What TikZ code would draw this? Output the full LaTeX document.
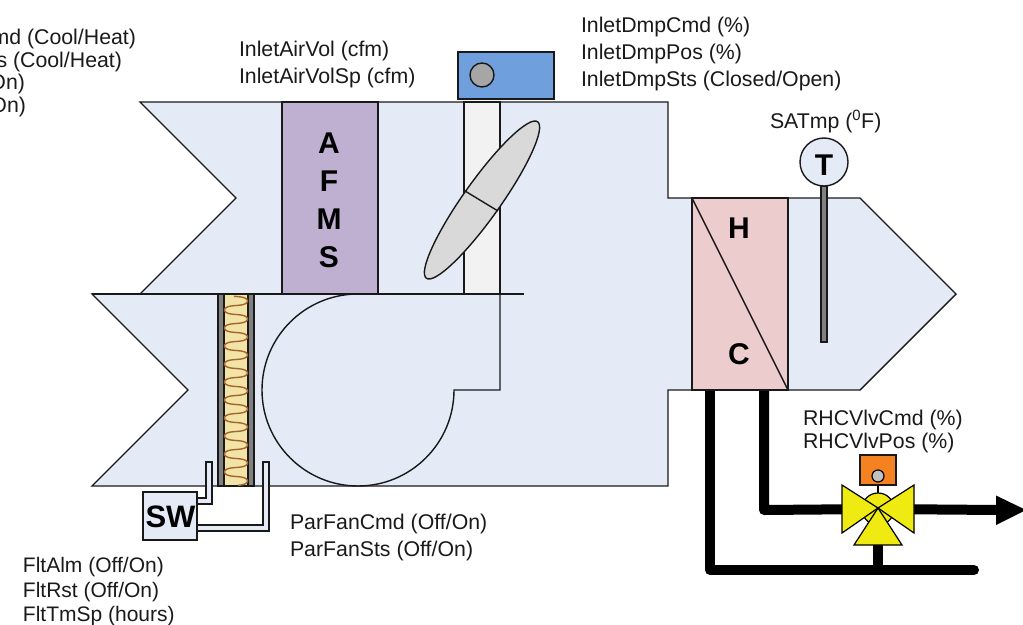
\documentclass[tikz,border=0pt]{standalone}
\usepackage{fontspec}
\setmainfont{Liberation Sans}
\definecolor{ductblue}{HTML}{E4EBF6}
\definecolor{afmspurple}{HTML}{BFB0D2}
\definecolor{framegrey}{HTML}{F2F2F2}
\definecolor{bladegrey}{HTML}{D9D9D9}
\definecolor{actblue}{HTML}{6F9FDC}
\definecolor{knobgrey}{HTML}{A6A6A6}
\definecolor{midgrey}{HTML}{808080}
\definecolor{filteryellow}{HTML}{F2E3A6}
\definecolor{coilbrown}{HTML}{A5652F}
\definecolor{coilpink}{HTML}{ECCCCC}
\definecolor{valveyellow}{HTML}{EEEA12}
\definecolor{actorange}{HTML}{F58220}
\definecolor{labelink}{HTML}{1A1A1A}
\tikzset{
  outl/.style={draw=black!90,line width=1.4pt,line join=miter},
  lab/.style={anchor=base west,inner sep=0pt,outer sep=0pt,text=labelink,font=\fontsize{21.3}{23}\selectfont},
  labs/.style={lab,font=\fontsize{21}{23}\selectfont},
  labr/.style={lab,anchor=base east},
  bigl/.style={inner sep=0pt,outer sep=0pt,font=\fontsize{30}{32}\selectfont\bfseries},
  pipe/.style={draw=black,line width=10pt,line join=round},
}
\begin{document}
\begin{tikzpicture}[x=1pt,y=-1pt]
\useasboundingbox (0,0) rectangle (1023,624);
\begin{scope}
\clip (0,0) rectangle (1023,624);
\fill[white] (0,0) rectangle (1023,624);
% duct
\path[outl,fill=ductblue] (140,102)--(668,102)--(668,198)--(860,198)--(956,294)--(860,390)--(668,390)--(668,486)--(92,486)--(188,390)--(92,294)--(140,294)--(236,198)--cycle;
% AFMS
\path[outl,fill=afmspurple] (282,102) rectangle (378,294);
% damper frame
\path[outl,fill=framegrey] (464,102) rectangle (500,294);
% divider and volute
\draw[outl] (92,294)--(524,294);
\draw[outl] (358,294) arc[start angle=270,end angle=90,radius=96] arc[start angle=90,end angle=0,radius=96]--(500,390)--(500,294);
% damper blade
\path[outl,fill=bladegrey,rotate around={54.6:(482,200)}] (482,200) ellipse[x radius=96,y radius=18.5];
\draw[outl] (465,191)--(498,211);
% damper actuator
\path[outl,fill=actblue] (458,52) rectangle (554,99);
\path[outl,fill=knobgrey] (482,75) circle[radius=12];
% filter
\path[outl,fill=midgrey] (218,294) rectangle (224,486);
\path[outl,fill=filteryellow] (224,294) rectangle (248,486);
\path[outl,fill=midgrey] (248,294) rectangle (254,486);
\draw[coilbrown,line width=1.4pt] plot[domain=296:485,samples=300,smooth,variable=\yy] ({236+11.5*sin(20*(\yy-310)-90)},{\yy-1.0*sin(2*(20*(\yy-310)-90))});
% pressure switch tubes
\path[draw=black!90,line width=1.2pt,fill=ductblue] (197,498)--(206,498)--(206,462)--(212,462)--(212,504)--(197,504);
\path[draw=black!90,line width=1.2pt,fill=ductblue] (197,525)--(263,525)--(263,462)--(269,462)--(269,531)--(197,531);
\path[outl,fill=ductblue] (143,492) rectangle (197,540);
\node[bigl,font=\fontsize{31}{32}\selectfont\bfseries] (sw) at (170.5,517) {SW};
% heating coil
\path[outl,fill=coilpink] (692,198) rectangle (788,390);
\draw[outl] (692,198)--(788,390);
\node[bigl] (h) at (739,228) {H};
\node[bigl] (c) at (739,354) {C};
% temp sensor
\path[draw=black!90,line width=1.2pt,fill=midgrey] (821,186) rectangle (827,342);
\path[outl,fill=ductblue] (824,162) circle[radius=24];
\node[bigl] (t) at (824,165) {T};
% AFMS letters
\node[bigl] (a1) at (329,143) {A};
\node[bigl] (a2) at (329,181) {F};
\node[bigl] (a3) at (329,219) {M};
\node[bigl] (a4) at (329,257) {S};
% pipes
\coordinate (coilA) at (710,391);
\coordinate (coilB) at (764,391);
\coordinate (cornerA) at (710,570);
\coordinate (cornerB) at (764,510);
\coordinate (endA) at (974,570);
\coordinate (valveC) at (878,509);
\coordinate (valveOut) at (998,510);
\draw[pipe,line cap=butt] (coilA)--(cornerA)--(endA);
\fill[black] (endA) circle[radius=5];
\draw[pipe] (coilB)--(cornerB)--(valveC);
\draw[pipe] (valveC)--(valveOut);
\draw[pipe] (878,540)--(878,570);
\fill[black] (996,495.5)--(1026,510)--(996,525)--cycle;
% valve
\path[draw=black,line width=1.2pt] (878,485)--(878,495);
\path[draw=black,line width=1.2pt,fill=valveyellow] (valveC) circle[radius=16];
\path[draw=black,line width=1.2pt,fill=valveyellow,line join=miter] (842,485)--(878,508)--(842,533)--cycle;
\path[draw=black,line width=1.2pt,fill=valveyellow,line join=miter] (914,485)--(878,508)--(914,533)--cycle;
\path[draw=black,line width=1.2pt,fill=valveyellow,line join=miter] (854,545)--(878,508)--(902,545)--cycle;
\path[outl,fill=actorange] (860,455) rectangle (896,485);
\path[draw=black,line width=1.2pt,fill=knobgrey!70] (878,476) circle[radius=6];
% labels
\node[labr] (l1) at (136,44) {md (Cool/Heat)};
\node[labr] (l2) at (122,67) {s (Cool/Heat)};
\node[labr] (l3) at (25,89) {On)};
\node[labr] (l4) at (26,112) {On)};
\node[lab] (l5) at (239,56) {InletAirVol (cfm)};
\node[lab] (l6) at (239,83) {InletAirVolSp (cfm)};
\node[lab] (l7) at (581,32) {InletDmpCmd (\%)};
\node[lab] (l8) at (581,59) {InletDmpPos (\%)};
\node[lab] (l9) at (581,86) {InletDmpSts (Closed/Open)};
\node[lab] (l10) at (770,128) {SATmp ($^{\mathrm{0}}$F)};
\node[lab] (l11) at (803,425) {RHCVlvCmd (\%)};
\node[lab] (l12) at (803,448) {RHCVlvPos (\%)};
\node[lab] (l13) at (290,529) {ParFanCmd (Off/On)};
\node[lab] (l14) at (290,556) {ParFanSts (Off/On)};
\node[labs] (l15) at (23,572) {FltAlm (Off/On)};
\node[labs] (l16) at (23,597) {FltRst (Off/On)};
\node[labs] (l17) at (23,621) {FltTmSp (hours)};
\end{scope}
\end{tikzpicture}
\end{document}
